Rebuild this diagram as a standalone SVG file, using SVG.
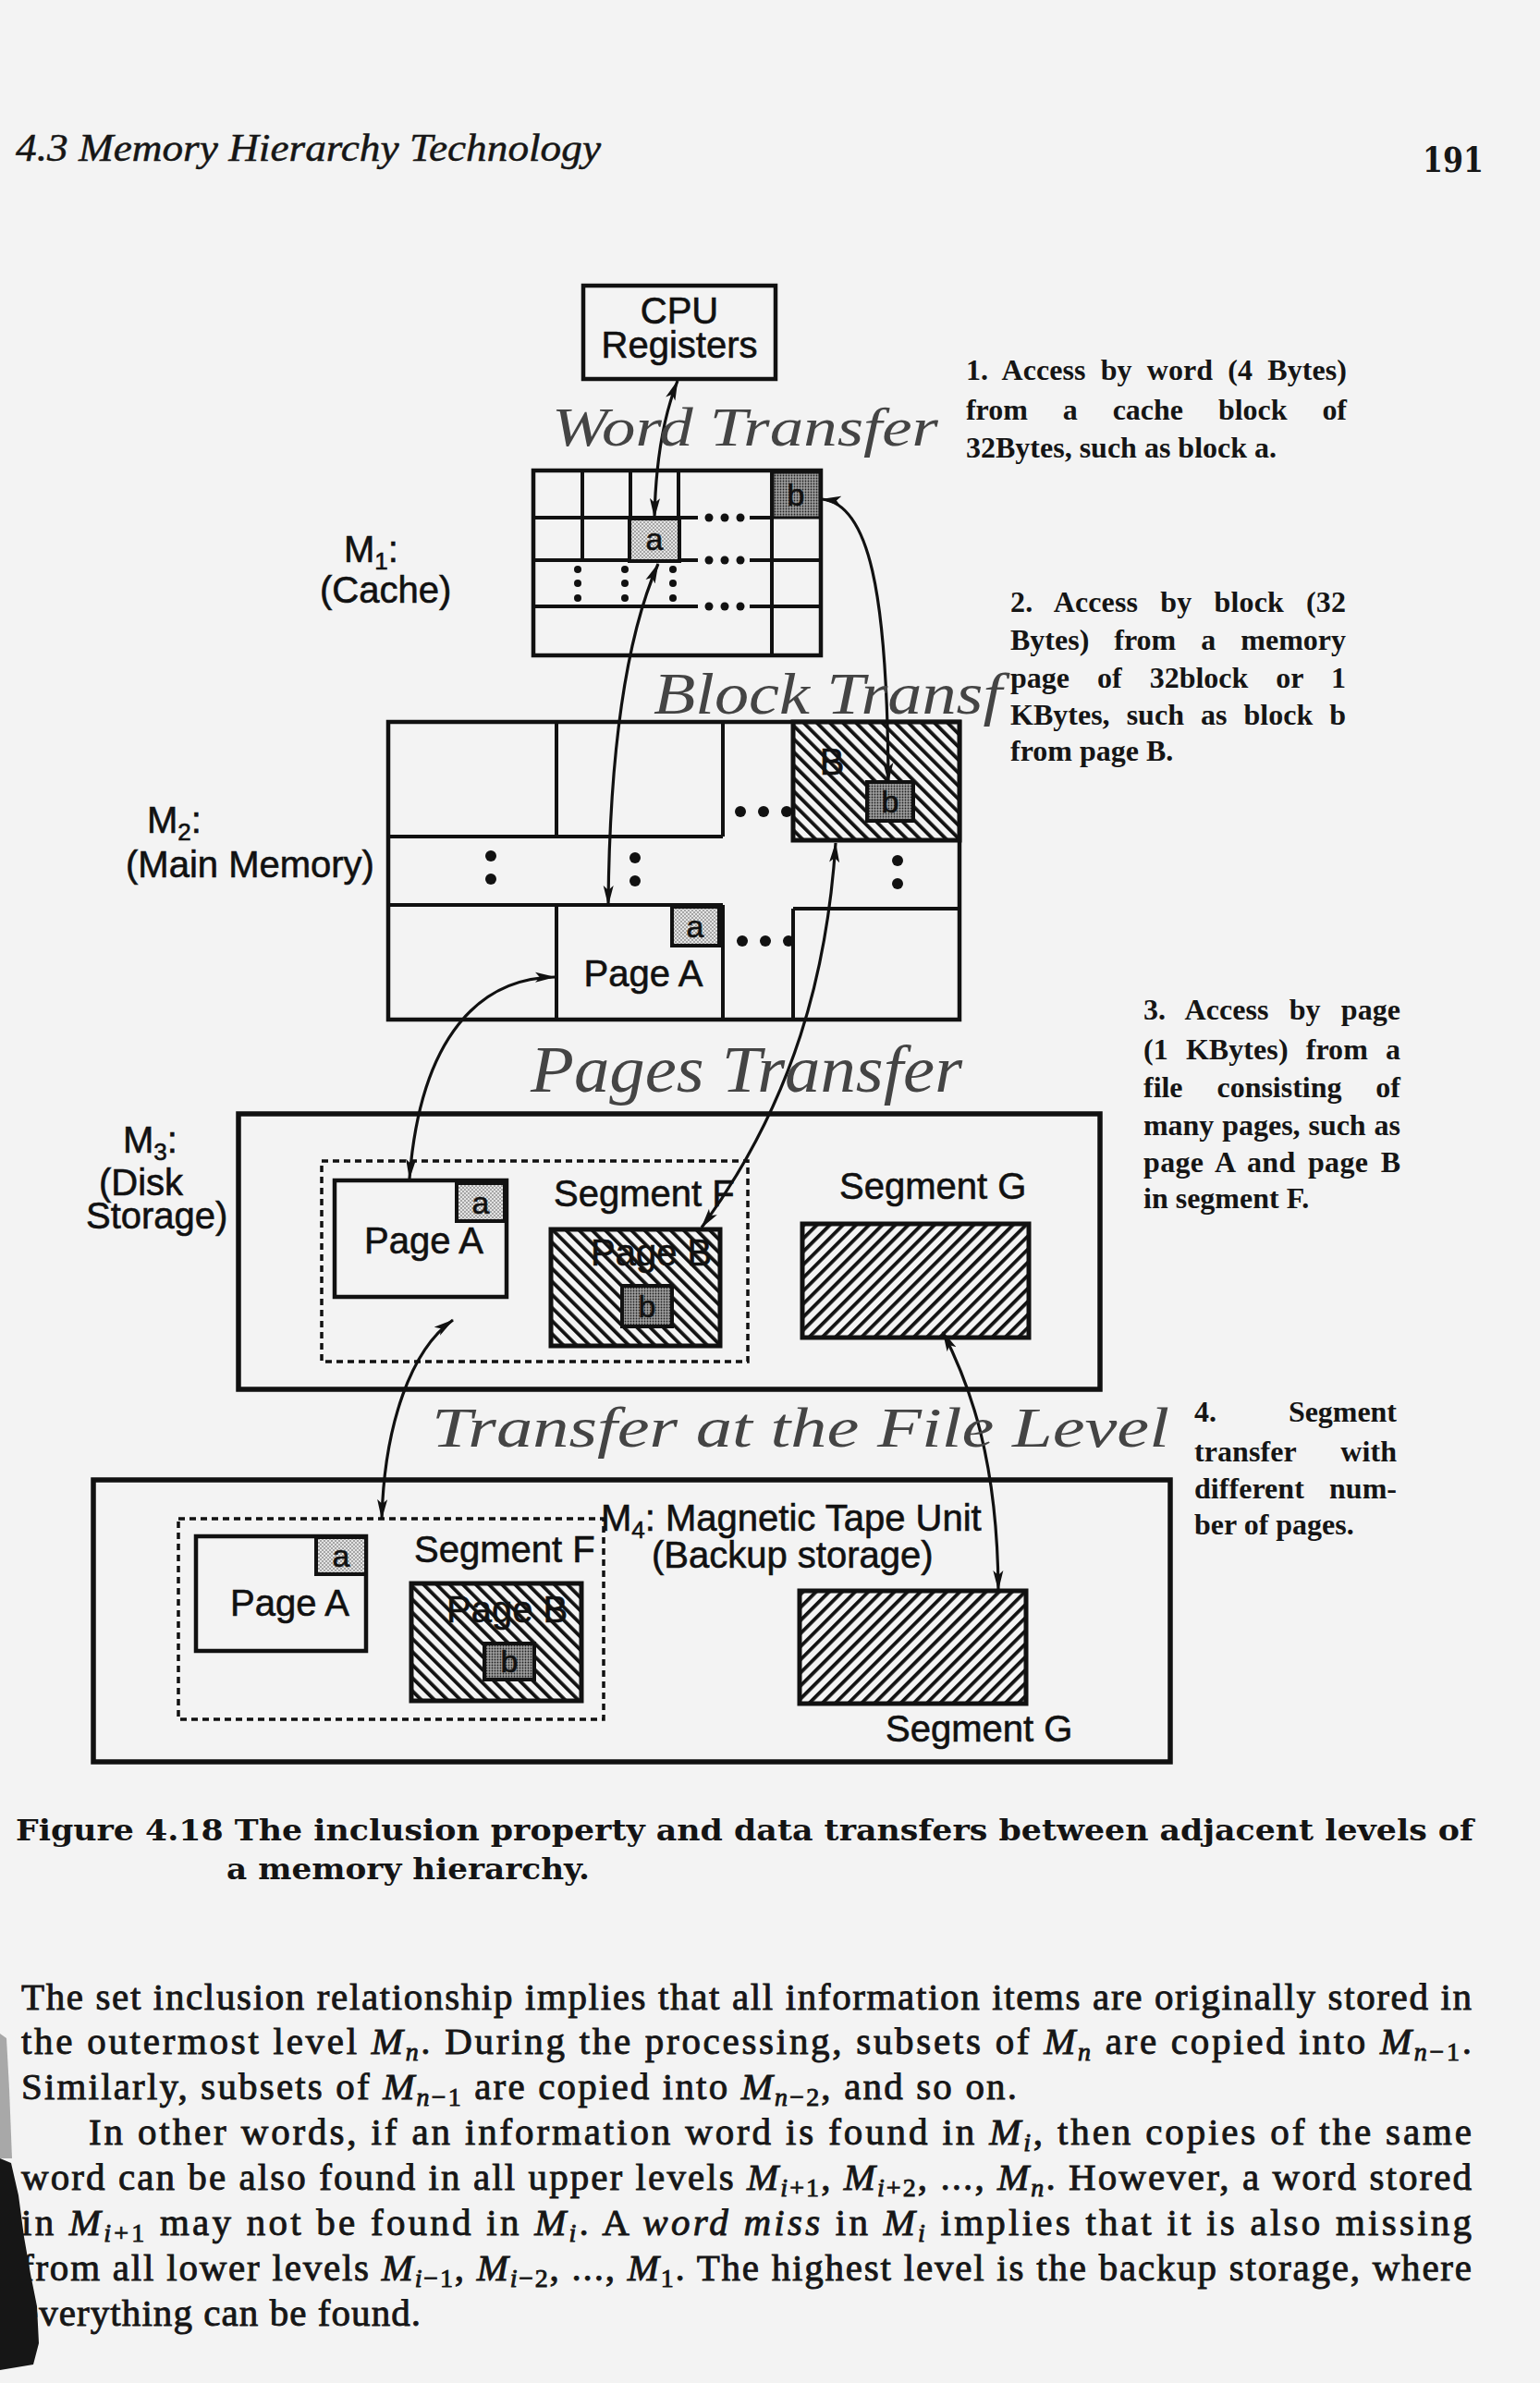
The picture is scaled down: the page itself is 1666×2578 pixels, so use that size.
<svg xmlns="http://www.w3.org/2000/svg" width="1666" height="2578" viewBox="0 0 1666 2578">
<defs>
<style>
.bx{fill:none;stroke:#111;stroke-width:4.5}
.bk{fill:none;stroke:#111;stroke-width:5.5}
.ln{stroke:#111;stroke-width:4;fill:none}
.sf{font-family:"Liberation Sans",Arial,sans-serif;font-size:40px;fill:#111;stroke:#111;stroke-width:0.6}
.sm{font-family:"Liberation Sans",Arial,sans-serif;font-size:34px;fill:#111;text-anchor:middle;stroke:#111;stroke-width:0.6}
.ann{font-family:"Liberation Serif","Times New Roman",serif;font-size:32px;font-weight:bold;fill:#151515}
.hw{font-family:"Liberation Serif","Times New Roman",serif;font-style:italic;fill:#444}
.body{font-family:"Liberation Serif","Times New Roman",serif;font-size:41px;fill:#161616;stroke:#161616;stroke-width:0.9}
.mi{font-style:italic}
.sb{font-size:28px}
.cap{font-family:"DejaVu Serif",serif;font-weight:bold;font-size:31px;fill:#141414}
.conn{fill:none;stroke:#111;stroke-width:3.2;marker-start:url(#ah);marker-end:url(#ah)}
.dash{fill:none;stroke:#111;stroke-width:3.5;stroke-dasharray:7 5}
.dot{fill:#111}
</style>
<pattern id="hb" width="10" height="10" patternUnits="userSpaceOnUse" patternTransform="rotate(-45)"><rect width="10" height="10" fill="#f4f4f4"/><rect width="3.8" height="10" fill="#111"/></pattern>
<pattern id="hf" width="10" height="10" patternUnits="userSpaceOnUse" patternTransform="rotate(45)"><rect width="10" height="10" fill="#f4f4f4"/><rect width="3.8" height="10" fill="#111"/></pattern>
<pattern id="sl" width="4" height="4" patternUnits="userSpaceOnUse"><rect width="4" height="4" fill="#e4e4e4"/><circle cx="1" cy="1" r="0.8" fill="#555"/><circle cx="3" cy="3" r="0.8" fill="#555"/></pattern>
<pattern id="sd" width="3" height="3" patternUnits="userSpaceOnUse"><rect width="3" height="3" fill="#a0a0a0"/><circle cx="1.5" cy="1.5" r="0.9" fill="#222"/></pattern>
<marker id="ah" viewBox="0 0 22 12" refX="21" refY="6" markerWidth="22" markerHeight="12" markerUnits="userSpaceOnUse" orient="auto-start-reverse"><path d="M0,0.5 L22,6 L0,11.5 L5,6 Z" fill="#111"/></marker>
</defs>

<rect x="0" y="0" width="1666" height="2578" fill="#f3f3f3"/>

<g id="header">
<text x="17" y="174" font-family="Liberation Serif, serif" font-style="italic" font-size="42" fill="#161616" stroke="#161616" stroke-width="0.5" textLength="633" lengthAdjust="spacingAndGlyphs">4.3 Memory Hierarchy Technology</text>
<text x="1539" y="186" font-family="DejaVu Serif, serif" font-weight="bold" font-size="38" fill="#161616" textLength="66" lengthAdjust="spacingAndGlyphs">191</text>
</g>

<g id="cpu">
<rect class="bx" x="631" y="309" width="208" height="101"/>
<text class="sf" x="735" y="350" font-size="39" text-anchor="middle">CPU</text>
<text class="sf" x="735" y="387" font-size="39" text-anchor="middle">Registers</text>
</g>

<g id="cache">
<rect class="bx" x="577" y="509" width="311" height="200"/>
<path class="ln" d="M577,560H755M811,560H836M577,606H755M811,606H888M577,656H755M811,656H888M630,509V606M682,509V560M734,509V560M835,509V709"/>
<rect x="681" y="561" width="54" height="46" fill="url(#sl)" stroke="#111" stroke-width="4"/>
<text class="sm" x="708" y="595">a</text>
<rect x="836" y="511" width="51" height="49" fill="url(#sd)" stroke="#111" stroke-width="3"/>
<text class="sm" x="861" y="547">b</text>
<g class="dot">
<circle cx="767" cy="560" r="4.5"/><circle cx="784" cy="560" r="4.5"/><circle cx="801" cy="560" r="4.5"/>
<circle cx="767" cy="606" r="4.5"/><circle cx="784" cy="606" r="4.5"/><circle cx="801" cy="606" r="4.5"/>
<circle cx="767" cy="656" r="4.5"/><circle cx="784" cy="656" r="4.5"/><circle cx="801" cy="656" r="4.5"/>
<circle cx="625" cy="616" r="4"/><circle cx="625" cy="631" r="4"/><circle cx="625" cy="647" r="4"/>
<circle cx="676" cy="616" r="4"/><circle cx="676" cy="631" r="4"/><circle cx="676" cy="647" r="4"/>
<circle cx="728" cy="616" r="4"/><circle cx="728" cy="631" r="4"/><circle cx="728" cy="647" r="4"/>
</g>
<text class="sf" x="372" y="608">M<tspan font-size="26" dy="8">1</tspan><tspan dy="-8">:</tspan></text>
<text class="sf" x="346" y="652">(Cache)</text>
</g>

<g id="m2">
<rect class="bx" x="420" y="781" width="618" height="322" stroke-width="5"/>
<path class="ln" d="M420,905H782M602,781V905M782,781V905M420,979H782M858,983H1038M602,979V1103M782,979V1103M858,983V1103"/>
<rect x="858" y="781" width="180" height="128" fill="url(#hb)" stroke="#111" stroke-width="5"/>
<text class="sf" x="900" y="838" font-size="38" text-anchor="middle" stroke="#f4f4f4" stroke-width="5" paint-order="stroke">B</text>
<rect x="938" y="846" width="50" height="42" fill="url(#sd)" stroke="#111" stroke-width="4"/>
<text class="sm" x="963" y="879">b</text>
<rect x="727" y="981" width="51" height="42" fill="url(#sl)" stroke="#111" stroke-width="4"/>
<text class="sm" x="752" y="1014">a</text>
<text class="sf" x="696" y="1067" text-anchor="middle">Page A</text>
<g class="dot">
<circle cx="801" cy="878" r="6"/><circle cx="826" cy="878" r="6"/><circle cx="851" cy="878" r="6"/>
<circle cx="531" cy="926" r="6"/><circle cx="531" cy="951" r="6"/>
<circle cx="687" cy="928" r="6"/><circle cx="687" cy="953" r="6"/>
<circle cx="971" cy="931" r="6"/><circle cx="971" cy="956" r="6"/>
<circle cx="803" cy="1018" r="6"/><circle cx="828" cy="1018" r="6"/><circle cx="853" cy="1018" r="6"/>
</g>
<text class="sf" x="159" y="901">M<tspan font-size="26" dy="8">2</tspan><tspan dy="-8">:</tspan></text>
<text class="sf" x="136" y="949">(Main Memory)</text>
</g>

<g id="m3">
<rect class="bk" x="258" y="1205" width="932" height="298"/>
<rect class="dash" x="348" y="1256" width="461" height="217"/>
<rect class="bx" x="362" y="1277" width="186" height="126" fill="#f4f4f4"/>
<rect x="494" y="1280" width="52" height="41" fill="url(#sl)" stroke="#111" stroke-width="4"/>
<text class="sm" x="520" y="1313">a</text>
<text class="sf" x="394" y="1356">Page A</text>
<text class="sf" x="599" y="1305">Segment F</text>
<rect x="596" y="1330" width="183" height="126" fill="url(#hb)" stroke="#111" stroke-width="5"/>
<text class="sf" x="639" y="1369" stroke="#f4f4f4" stroke-width="2" paint-order="stroke">Page B</text>
<rect x="673" y="1391" width="54" height="44" fill="url(#sd)" stroke="#111" stroke-width="4"/>
<text class="sm" x="700" y="1425">b</text>
<text class="sf" x="908" y="1297">Segment G</text>
<rect x="868" y="1324" width="245" height="123" fill="url(#hf)" stroke="#111" stroke-width="5"/>
<text class="sf" x="133" y="1247">M<tspan font-size="26" dy="8">3</tspan><tspan dy="-8">:</tspan></text>
<text class="sf" x="107" y="1293">(Disk</text>
<text class="sf" x="93" y="1329">Storage)</text>
</g>

<g id="m4">
<rect class="bk" x="101" y="1601" width="1165" height="305"/>
<rect class="dash" x="193" y="1643" width="460" height="217"/>
<rect class="bx" x="212" y="1662" width="184" height="124" fill="#f4f4f4"/>
<rect x="342" y="1663" width="54" height="40" fill="url(#sl)" stroke="#111" stroke-width="4"/>
<text class="sm" x="369" y="1695">a</text>
<text class="sf" x="249" y="1748">Page A</text>
<text class="sf" x="448" y="1690">Segment F</text>
<rect x="445" y="1713" width="184" height="127" fill="url(#hb)" stroke="#111" stroke-width="5"/>
<text class="sf" x="483" y="1755" stroke="#f4f4f4" stroke-width="2" paint-order="stroke">Page B</text>
<rect x="524" y="1778" width="54" height="39" fill="url(#sd)" stroke="#111" stroke-width="4"/>
<text class="sm" x="551" y="1809">b</text>
<text class="sf" x="650" y="1656">M<tspan font-size="26" dy="8">4</tspan><tspan dy="-8">: Magnetic Tape Unit</tspan></text>
<text class="sf" x="705" y="1696">(Backup storage)</text>
<rect x="865" y="1721" width="245" height="122" fill="url(#hf)" stroke="#111" stroke-width="5"/>
<text class="sf" x="958" y="1884">Segment G</text>
</g>

<g id="connectors">
<path class="conn" d="M733,412 Q710,470 708,560"/>
<path class="conn" d="M712,610 C690,660 660,760 658,979"/>
<path class="conn" d="M889,540 C940,545 960,640 961,846"/>
<path class="conn" d="M904,912 C895,1050 860,1190 759,1328"/>
<path class="conn" d="M600,1057 C520,1058 455,1120 443,1275"/>
<path class="conn" d="M490,1428 C445,1460 416,1540 413,1643"/>
<path class="conn" d="M1020,1441 C1050,1500 1079,1580 1080,1720"/>
</g>

<g id="handwriting">
<text class="hw" x="597" y="482" font-size="60" textLength="418" lengthAdjust="spacingAndGlyphs">Word Transfer</text>
<text class="hw" x="707" y="772" font-size="64" textLength="377" lengthAdjust="spacingAndGlyphs">Block Transf</text>
<text class="hw" x="574" y="1181" font-size="72" textLength="467" lengthAdjust="spacingAndGlyphs">Pages Transfer</text>
<text class="hw" x="467" y="1565" font-size="62" textLength="798" lengthAdjust="spacingAndGlyphs">Transfer at the File Level</text>
</g>

<g id="annotations">
<text class="ann" x="1045" y="411" word-spacing="8" textLength="412" lengthAdjust="spacing">1. Access by word (4 Bytes)</text>
<text class="ann" x="1045" y="454" word-spacing="30" textLength="412" lengthAdjust="spacing">from a cache block of</text>
<text class="ann" x="1045" y="495">32Bytes, such as block a.</text>
<text class="ann" x="1093" y="662" word-spacing="16" textLength="363" lengthAdjust="spacing">2. Access by block (32</text>
<text class="ann" x="1093" y="703" word-spacing="19" textLength="363" lengthAdjust="spacing">Bytes) from a memory</text>
<text class="ann" x="1093" y="744" word-spacing="22" textLength="363" lengthAdjust="spacing">page of 32block or 1</text>
<text class="ann" x="1093" y="784" word-spacing="10" textLength="363" lengthAdjust="spacing">KBytes, such as block b</text>
<text class="ann" x="1093" y="823">from page B.</text>
<text class="ann" x="1237" y="1103" word-spacing="14" textLength="278" lengthAdjust="spacing">3. Access by page</text>
<text class="ann" x="1237" y="1146" word-spacing="11" textLength="278" lengthAdjust="spacing">(1 KBytes) from a</text>
<text class="ann" x="1237" y="1187" word-spacing="29" textLength="278" lengthAdjust="spacing">file consisting of</text>
<text class="ann" x="1237" y="1228" word-spacing="1" textLength="278" lengthAdjust="spacing">many pages, such as</text>
<text class="ann" x="1237" y="1268" word-spacing="5" textLength="278" lengthAdjust="spacing">page A and page B</text>
<text class="ann" x="1237" y="1307">in segment F.</text>
<text class="ann" x="1292" y="1538" word-spacing="70" textLength="219" lengthAdjust="spacing">4. Segment</text>
<text class="ann" x="1292" y="1581" word-spacing="40" textLength="219" lengthAdjust="spacing">transfer with</text>
<text class="ann" x="1292" y="1621" word-spacing="19" textLength="219" lengthAdjust="spacing">different num-</text>
<text class="ann" x="1292" y="1660">ber of pages.</text>
</g>

<g id="caption">
<text class="cap" x="17" y="1991" textLength="1577" lengthAdjust="spacingAndGlyphs">Figure 4.18 The inclusion property and data transfers between adjacent levels of</text>
<text class="cap" x="245" y="2033" textLength="393" lengthAdjust="spacingAndGlyphs">a memory hierarchy.</text>
</g>

<g id="body">
<text class="body" x="23" y="2174" textLength="1569" lengthAdjust="spacing">The set inclusion relationship implies that all information items are originally stored in</text>
<text class="body" x="23" y="2222" textLength="1569" lengthAdjust="spacing">the outermost level <tspan class="mi">M</tspan><tspan class="mi sb" dy="7">n</tspan><tspan dy="-7">. During the processing, subsets of </tspan><tspan class="mi">M</tspan><tspan class="mi sb" dy="7">n</tspan><tspan dy="-7"> are copied into </tspan><tspan class="mi">M</tspan><tspan class="sb" dy="7"><tspan class="mi">n</tspan>−1</tspan><tspan dy="-7">.</tspan></text>
<text class="body" x="23" y="2271" textLength="1077" lengthAdjust="spacing">Similarly, subsets of <tspan class="mi">M</tspan><tspan class="sb" dy="7"><tspan class="mi">n</tspan>−1</tspan><tspan dy="-7"> are copied into </tspan><tspan class="mi">M</tspan><tspan class="sb" dy="7"><tspan class="mi">n</tspan>−2</tspan><tspan dy="-7">, and so on.</tspan></text>
<text class="body" x="96" y="2320" textLength="1496" lengthAdjust="spacing">In other words, if an information word is found in <tspan class="mi">M</tspan><tspan class="mi sb" dy="7">i</tspan><tspan dy="-7">, then copies of the same</tspan></text>
<text class="body" x="23" y="2369" textLength="1569" lengthAdjust="spacing">word can be also found in all upper levels <tspan class="mi">M</tspan><tspan class="sb" dy="7"><tspan class="mi">i</tspan>+1</tspan><tspan dy="-7">, </tspan><tspan class="mi">M</tspan><tspan class="sb" dy="7"><tspan class="mi">i</tspan>+2</tspan><tspan dy="-7">, ..., </tspan><tspan class="mi">M</tspan><tspan class="mi sb" dy="7">n</tspan><tspan dy="-7">. However, a word stored</tspan></text>
<text class="body" x="23" y="2418" textLength="1569" lengthAdjust="spacing">in <tspan class="mi">M</tspan><tspan class="sb" dy="7"><tspan class="mi">i</tspan>+1</tspan><tspan dy="-7"> may not be found in </tspan><tspan class="mi">M</tspan><tspan class="mi sb" dy="7">i</tspan><tspan dy="-7">. A </tspan><tspan class="mi">word miss</tspan> in <tspan class="mi">M</tspan><tspan class="mi sb" dy="7">i</tspan><tspan dy="-7"> implies that it is also missing</tspan></text>
<text class="body" x="23" y="2467" textLength="1569" lengthAdjust="spacing">from all lower levels <tspan class="mi">M</tspan><tspan class="sb" dy="7"><tspan class="mi">i</tspan>−1</tspan><tspan dy="-7">, </tspan><tspan class="mi">M</tspan><tspan class="sb" dy="7"><tspan class="mi">i</tspan>−2</tspan><tspan dy="-7">, ..., </tspan><tspan class="mi">M</tspan><tspan class="sb" dy="7">1</tspan><tspan dy="-7">. The highest level is the backup storage, where</tspan></text>
<text class="body" x="23" y="2516" textLength="432" lengthAdjust="spacing">everything can be found.</text>
</g>

<path d="M0,2335 L12,2340 L20,2375 L26,2420 L33,2460 L40,2495 L42,2535 L36,2558 L0,2564 Z" fill="#161616"/>
<path d="M0,2200 L7,2205 L10,2260 L13,2335 L0,2335 Z" fill="#777" opacity="0.6"/>
</svg>
